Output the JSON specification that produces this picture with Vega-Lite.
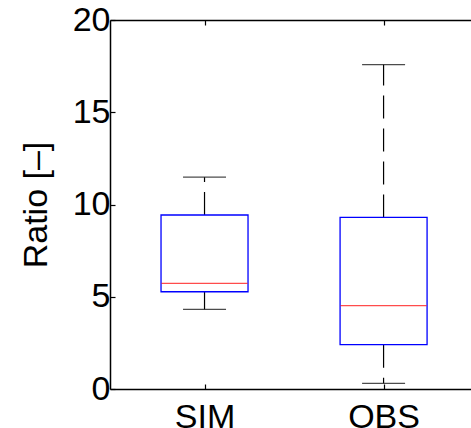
{
  "$schema": "https://vega.github.io/schema/vega-lite/v6.json",
  "autosize": {"type": "none"},
  "padding": {"left": 110, "top": 20, "right": -8, "bottom": 39},
  "width": 369,
  "height": 369,
  "background": "white",
  "config": {
    "view": {"stroke": "transparent"},
    "font": "Liberation Sans",
    "axis": {
      "domainColor": "black",
      "domainWidth": 1.5,
      "tickColor": "black",
      "tickWidth": 1.2,
      "labelColor": "black",
      "titleColor": "black",
      "labelFont": "Liberation Sans",
      "titleFont": "Liberation Sans",
      "labelFontSize": 34,
      "titleFontSize": 34,
      "titleFontWeight": "normal",
      "grid": false
    }
  },
  "data": {
    "values": [
      {"group": "SIM", "pos": 1, "lower": 4.32, "q1": 5.27, "median": 5.73, "q3": 9.43, "upper": 11.48},
      {"group": "OBS", "pos": 2, "lower": 0.31, "q1": 2.4, "median": 4.52, "q3": 9.3, "upper": 17.58}
    ]
  },
  "layer": [
    {
      "mark": {"type": "rule", "color": "black", "strokeWidth": 1.2, "strokeDash": [23, 10]},
      "encoding": {
        "x": {
          "field": "pos",
          "type": "quantitative",
          "scale": {"domain": [0.5, 2.505], "nice": false, "zero": false},
          "axis": {
            "title": null,
            "values": [1, 2],
            "labelExpr": "datum.value == 1 ? 'SIM' : (datum.value == 2 ? 'OBS' : '')",
            "tickSize": -5,
            "labelPadding": 16,
            "labelAlign": "center"
          }
        },
        "y": {
          "field": "q3",
          "type": "quantitative",
          "scale": {"domain": [0, 20], "nice": false, "zero": false},
          "axis": {
            "title": "Ratio [–]",
            "values": [0, 5, 10, 15, 20],
            "tickSize": -5,
            "labelPadding": 5,
            "titlePadding": 19
          }
        },
        "y2": {"field": "upper"}
      }
    },
    {
      "mark": {"type": "rule", "color": "black", "strokeWidth": 1.2, "strokeDash": [23, 10]},
      "encoding": {
        "x": {"field": "pos", "type": "quantitative", "axis": null},
        "y": {"field": "q1", "type": "quantitative"},
        "y2": {"field": "lower"}
      }
    },
    {
      "mark": {"type": "bar", "size": 87, "fill": "white", "stroke": "#0000ff", "strokeWidth": 1.3},
      "encoding": {
        "x": {"field": "pos", "type": "quantitative", "axis": null},
        "y": {"field": "q3", "type": "quantitative"},
        "y2": {"field": "q1"}
      }
    },
    {
      "mark": {"type": "tick", "orient": "horizontal", "size": 86, "thickness": 1.3, "color": "#ff0000"},
      "encoding": {
        "x": {"field": "pos", "type": "quantitative", "axis": null},
        "y": {"field": "median", "type": "quantitative"}
      }
    },
    {
      "mark": {"type": "tick", "orient": "horizontal", "size": 43, "thickness": 1.3, "color": "black"},
      "encoding": {
        "x": {"field": "pos", "type": "quantitative", "axis": null},
        "y": {"field": "upper", "type": "quantitative"}
      }
    },
    {
      "mark": {"type": "tick", "orient": "horizontal", "size": 43, "thickness": 1.3, "color": "black"},
      "encoding": {
        "x": {"field": "pos", "type": "quantitative", "axis": null},
        "y": {"field": "lower", "type": "quantitative"}
      }
    },
    {
      "mark": {"type": "tick", "orient": "horizontal", "size": 1, "opacity": 0},
      "encoding": {
        "x": {
          "field": "pos",
          "type": "quantitative",
          "axis": {
            "orient": "top",
            "title": null,
            "values": [1, 2],
            "labels": false,
            "tickSize": -5
          }
        },
        "y": {"field": "upper", "type": "quantitative"}
      }
    }
  ],
  "resolve": {"axis": {"x": "independent"}}
}
